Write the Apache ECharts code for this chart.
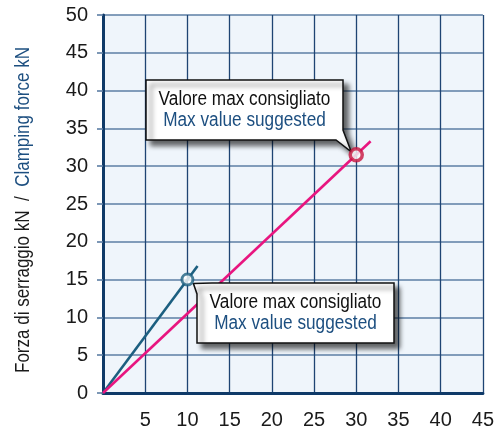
<!DOCTYPE html>
<html><head><meta charset="utf-8">
<script src="https://cdn.jsdelivr.net/npm/echarts@6/dist/echarts.min.js"></script>
<style>html,body{margin:0;padding:0;background:#fff}#c{width:497px;height:430px}</style>
</head><body><div id="c"></div>
<script>
// ---- data ----
const xTicks = [0, 5, 10, 15, 20, 25, 30, 35, 40, 45];
const yTicks = [0, 5, 10, 15, 20, 25, 30, 35, 40, 45, 50];
const blueLine = [[0, 0], [11.2, 16.8]];
const pinkLine = [[0, 0], [31.7, 33.3]];
const blueMax = [[10, 15]];
const pinkMax = [[30, 31.5]];
const calloutIt = 'Valore max consigliato';
const calloutEn = 'Max value suggested';
const yTitleIt = 'Forza di serraggio kN';
const yTitleEn = 'Clamping force kN';

const FONT = '"Liberation Sans", Arial, sans-serif';
const NAVY = '#0f3a68';
const BLUE_TXT = '#1d4f80';

const chart = echarts.init(document.getElementById('c'), null, {renderer: 'canvas'});
chart.setOption({
  animation: false,
  grid: {left: 103, top: 15, right: 13, bottom: 37, show: true, backgroundColor: '#eff5fb', borderWidth: 0},
  xAxis: {
    type: 'value', min: xTicks[0], max: xTicks[xTicks.length - 1], interval: 5,
    axisLine: {show: true, onZero: false, lineStyle: {color: NAVY, width: 3}},
    axisTick: {show: false},
    splitLine: {show: true, lineStyle: {color: '#1e4473', width: 1.3}},
    axisLabel: {margin: 17, fontSize: 20, color: '#1a1a1a', fontFamily: FONT,
      formatter: v => (v === 0 ? '' : String(v))}
  },
  yAxis: {
    type: 'value', min: yTicks[0], max: yTicks[yTicks.length - 1], interval: 5,
    axisLine: {show: true, onZero: false, lineStyle: {color: NAVY, width: 3}},
    axisTick: {show: true, length: 6, lineStyle: {color: '#5c7ea4', width: 1.6}},
    splitLine: {show: true, lineStyle: {color: '#5c7ea4', width: 1.6}},
    axisLabel: {margin: 15, fontSize: 20, color: '#1a1a1a', fontFamily: FONT}
  },
  series: [
    {type: 'line', data: blueLine, showSymbol: false, z: 2,
      lineStyle: {color: '#1c5f80', width: 2.6}},
    {type: 'line', data: pinkLine, showSymbol: false, z: 2,
      lineStyle: {color: '#e8157f', width: 2.6}},
    {type: 'scatter', data: blueMax, symbol: 'circle', symbolSize: 11, z: 10,
      itemStyle: {color: '#ffffff', borderColor: '#1c5f80', borderWidth: 3}},
    {type: 'scatter', data: pinkMax, symbol: 'circle', symbolSize: 12, z: 10,
      itemStyle: {color: '#ffffff', borderColor: '#c8143f', borderWidth: 3.5}}
  ]
});

function bubble(points, cx, cy) {
  return [
    {type: 'polygon', z: 5, shape: {points: points},
      style: {fill: '#ffffff', stroke: '#111111', lineWidth: 1.5,
        shadowBlur: 5, shadowOffsetX: 5, shadowOffsetY: 5, shadowColor: 'rgba(0,0,0,0.6)'}},
    {type: 'text', z: 6, x: cx, y: cy, scaleX: 0.86,
      style: {text: calloutIt, x: 0, y: -10, fill: '#111111',
      font: '20px ' + FONT, align: 'center', verticalAlign: 'middle'}},
    {type: 'text', z: 6, x: cx, y: cy, scaleX: 0.86,
      style: {text: calloutEn, x: 0, y: 11, fill: BLUE_TXT,
      font: '20px ' + FONT, align: 'center', verticalAlign: 'middle'}}
  ];
}

const pPink = chart.convertToPixel({gridIndex: 0}, pinkMax[0]);
const pBlue = chart.convertToPixel({gridIndex: 0}, blueMax[0]);
// callout 1 (top): tail to pink max
const b1 = {l: 146, t: 80, r: 343, b: 140};
const tip1 = [pPink[0] - 5, pPink[1] - 3];
const poly1 = [[b1.l, b1.t], [b1.r, b1.t], [b1.r, b1.b - 10], tip1, [b1.r - 7, b1.b], [b1.l, b1.b]];
// callout 2 (bottom): tail to blue max
const b2 = {l: 197, t: 283, r: 394, b: 343};
const tip2 = [pBlue[0] + 6, pBlue[1] + 4];
const poly2 = [tip2, [b2.l + 15, b2.t], [b2.r, b2.t], [b2.r, b2.b], [b2.l, b2.b], [b2.l, b2.t + 11]];

chart.setOption({
  graphic: [].concat(
    bubble(poly1, (b1.l + b1.r) / 2, (b1.t + b1.b) / 2 - 1),
    bubble(poly2, (b2.l + b2.r) / 2, (b2.t + b2.b) / 2 - 1),
    [{type: 'text', x: 23, y: 210, rotation: Math.PI / 2, scaleX: 0.85,
      style: {text: '{a|' + yTitleIt + '  /  }{b|' + yTitleEn + '}', x: 0, y: 0,
        font: '20px ' + FONT, align: 'center', verticalAlign: 'middle',
        rich: {a: {fill: '#1a1a1a', fontSize: 20, fontFamily: FONT},
               b: {fill: BLUE_TXT, fontSize: 20, fontFamily: FONT}}}}]
  )
});
</script></body></html>
